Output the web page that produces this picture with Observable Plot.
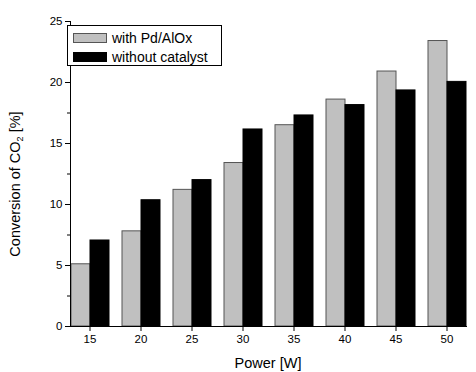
<!DOCTYPE html>
<html>
<head>
<meta charset="utf-8">
<script src="https://cdn.jsdelivr.net/npm/d3@7"></script>
<script src="https://cdn.jsdelivr.net/npm/@observablehq/plot@0.6"></script>
<style>
  html, body { margin: 0; padding: 0; background: #fff; }
  #wrap { position: relative; width: 476px; height: 372px; font-family: "Liberation Sans", Arial, sans-serif; color: #000; }
  #legend { position: absolute; left: 67px; top: 25px; width: 155px; height: 41px; border: 1px solid #000; box-sizing: border-box; background: #fff; font-size: 14px; }
  .row { position: absolute; left: 5px; height: 16px; line-height: 16px; display: flex; align-items: center; white-space: nowrap; }
  .sw { width: 34px; height: 10px; box-sizing: border-box; margin-right: 5px; }
  #ylab { position: absolute; left: 18px; top: 184px; line-height: 15px; transform: translate(-50%, -50%) rotate(-90deg); white-space: nowrap; font-size: 14.5px; }
  #ylab sub { font-size: 9px; }
  #xlab { position: absolute; left: 268px; top: 356px; line-height: 14.5px; transform: translateX(-50%); white-space: nowrap; font-size: 14.5px; }
</style>
</head>
<body>
<div id="wrap"></div>
<script>
const powers = [15, 20, 25, 30, 35, 40, 45, 50];
const seriesNames = ["with Pd/AlOx", "without catalyst"];
const withPd = [5.1, 7.8, 11.2, 13.4, 16.5, 18.6, 20.9, 23.4];
const withoutCat = [7.05, 10.35, 12.0, 16.15, 17.3, 18.15, 19.35, 20.05];
const majorTicks = [0, 5, 10, 15, 20, 25];
const minorTicks = [2.5, 7.5, 12.5, 17.5, 22.5];
const seriesColors = ["#c0c0c0", "#000000"];
const seriesStrokes = ["#555555", "#000000"];

const rows = [];
powers.forEach((p, i) => {
  rows.push({power: p, series: seriesNames[0], value: withPd[i]});
  rows.push({power: p, series: seriesNames[1], value: withoutCat[i]});
});

const chart = Plot.plot({
  width: 476, height: 372,
  marginLeft: 58, marginRight: 0, marginTop: 21, marginBottom: 46,
  style: {fontFamily: "'Liberation Sans', Arial, sans-serif", fontSize: "11px", color: "#000", background: "#fff", overflow: "visible"},
  fx: {domain: powers, paddingInner: 0.226, paddingOuter: 0.208, align: 0.58, label: null, axis: null},
  x: {domain: seriesNames, padding: 0, axis: null},
  y: {domain: [0, 25], axis: null},
  color: {domain: seriesNames, range: seriesColors},
  marks: [
    Plot.barY(rows, {
      fx: "power", x: "series", y: "value", fill: "series",
      stroke: d => seriesStrokes[seriesNames.indexOf(d.series)], strokeWidth: 1
    }),
    Plot.frame({anchor: "left", facet: "super", strokeWidth: 1}),
    Plot.frame({anchor: "bottom", facet: "super", strokeWidth: 1}),
    Plot.axisFx({anchor: "bottom", tickSize: 5, tickPadding: 3, label: null, fontSize: 11.5}),
    Plot.axisY({ticks: majorTicks, tickSize: 5, tickPadding: 3, label: null, fontSize: 11.5}),
    Plot.axisY({ticks: minorTicks, tickSize: 3, text: null, label: null})
  ]
});

const wrap = document.getElementById("wrap");
wrap.appendChild(chart);

const legend = document.createElement("div");
legend.id = "legend";
seriesNames.forEach((name, i) => {
  const row = document.createElement("div");
  row.className = "row";
  row.style.top = (4 + i * 19) + "px";
  const sw = document.createElement("div");
  sw.className = "sw";
  sw.style.background = seriesColors[i];
  sw.style.border = "1px solid " + seriesStrokes[i];
  const t = document.createElement("span");
  t.textContent = name;
  row.appendChild(sw); row.appendChild(t);
  legend.appendChild(row);
});
wrap.appendChild(legend);

const ylab = document.createElement("div");
ylab.id = "ylab";
ylab.innerHTML = "Conversion of CO<sub>2</sub> [%]";
wrap.appendChild(ylab);

const xlab = document.createElement("div");
xlab.id = "xlab";
xlab.textContent = "Power [W]";
wrap.appendChild(xlab);
</script>
</body>
</html>
